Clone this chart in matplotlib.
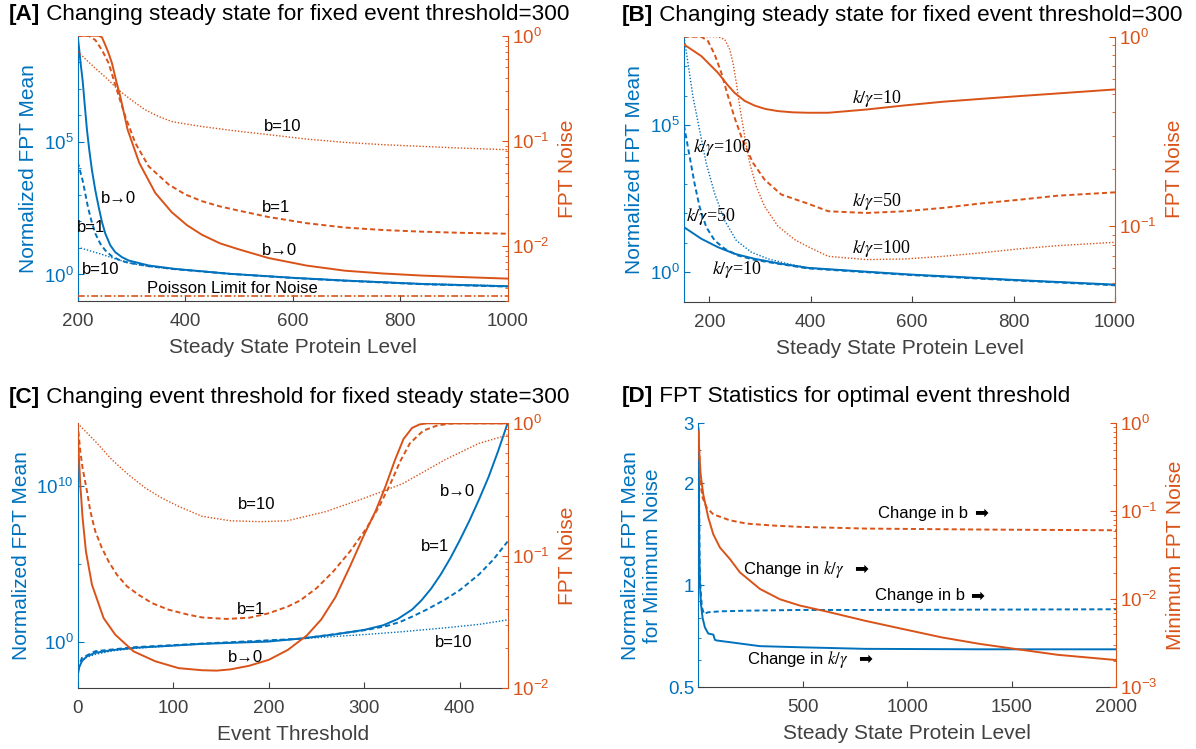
import matplotlib.pyplot as plt
import numpy as np
from matplotlib.ticker import FixedLocator, FuncFormatter, NullFormatter

plt.rcParams['font.family'] = ['Liberation Sans', 'DejaVu Sans']
plt.rcParams['mathtext.fontset'] = 'stix'

BLUE = '#0072BD'
ORANGE = '#D95319'
GRAY = '#404040'

# ---- [A] steady state sweep, event threshold fixed at 300 ----
a_x_mean_b0 = [200, 203.1, 205.6, 209.3, 213, 217.4, 221.7, 226.7, 232.9, 239.1, 245.3, 251.5,
               260.8, 270.1, 282.5, 294.9, 332.1, 381.7, 431.3, 483.5, 600, 697, 840, 1000]
a_mean_b0 = [1e9, 2.9e8, 9.1e7, 2.1e7, 2.8e6, 2.8e5, 4.9e4, 8.5e3, 1.5e3, 355, 95, 35,
             12.6, 6.9, 4.5, 3.37, 2.19, 1.62, 1.32, 1.06, 0.75, 0.59, 0.44, 0.36]
a_x_mean_b1 = [200, 204.3, 209.3, 214.3, 219.2, 225.4, 232.9, 242.2, 251.5, 263.9, 279.4, 294.9,
               332.1, 381.7, 431.3, 483.5, 600, 697, 840, 1000]
a_mean_b1 = [1.74e4, 8.5e3, 3.5e3, 1.1e3, 347, 110, 35, 14.5, 8.1, 4.8, 3.38, 2.75,
             2.07, 1.58, 1.3, 1.05, 0.74, 0.58, 0.43, 0.35]
a_x_mean_b10 = [200, 220.5, 245.3, 270.1, 294.9, 332.1, 381.7, 431.3, 483.5, 600, 697, 840, 1000]
a_mean_b10 = [10.7, 8.1, 5.7, 3.9, 2.75, 2.0, 1.59, 1.34, 1.07, 0.76, 0.6, 0.45, 0.37]

a_x_noise_b0 = [200, 239.1, 245.3, 251.5, 257.7, 263.9, 271.3, 279.4, 293, 314.7, 344.5, 375,
                403.4, 431.3, 465, 500, 554.8, 626, 697, 768.5, 840, 911, 1000]
a_noise_b0 = [1.0, 1.0, 0.966, 0.816, 0.681, 0.548, 0.38, 0.264, 0.128, 0.0617, 0.032, 0.021,
              0.0158, 0.0128, 0.0106, 0.0093, 0.0077, 0.00652, 0.00583, 0.00548, 0.00524,
              0.00508, 0.0049]
a_x_noise_b1 = [200, 220.5, 232.9, 245.3, 257.7, 272.8, 288.7, 307.3, 332.1, 369.3, 400, 431.3,
                465, 500, 554.8, 626, 697, 768.5, 840, 911, 1000]
a_noise_b1 = [1.0, 1.0, 0.91, 0.731, 0.548, 0.306, 0.171, 0.0955, 0.0573, 0.0385, 0.031, 0.0267,
              0.0238, 0.0217, 0.0189, 0.0165, 0.015, 0.0142, 0.0137, 0.01337, 0.0131]
a_x_noise_b10 = [200, 232.9, 255, 275.6, 300, 325.3, 350, 374.9, 400, 431.3, 490, 554.8, 626, 697,
                 768.5, 840, 911, 1000]
a_noise_b10 = [0.706, 0.49, 0.39, 0.306, 0.245, 0.198, 0.171, 0.153, 0.145, 0.137, 0.125, 0.1147,
               0.104, 0.0968, 0.092, 0.0887, 0.0855, 0.0824]
a_x_poisson = [200, 1000]
a_poisson = [0.00333, 0.00333]

# ---- [B] steady state sweep for different k/gamma ----
b_x_mean_10 = [150, 184.2, 217, 249.9, 289.4, 335.4, 394.5, 500, 600, 700, 800, 900, 1000]
b_mean_10 = [33.9, 13.7, 7.1, 4.23, 2.86, 2.02, 1.41, 1.07, 0.83, 0.68, 0.55, 0.457, 0.38]
b_x_mean_50 = [150, 161.2, 171, 180.9, 194, 210.5, 230.2, 256.5, 289.4, 335.4, 394.5, 500, 600,
               700, 800, 900, 1000]
b_mean_50 = [9.8e4, 8.3e3, 1.0e3, 162, 34, 12, 6.3, 3.7, 2.63, 1.95, 1.35, 1.03, 0.8,
             0.65, 0.53, 0.44, 0.36]
b_x_mean_100 = [150, 157.9, 167.7, 180.9, 194, 210.5, 230.2, 253.2, 282.8, 315.6, 355.1, 394.5,
                500, 600, 700, 800, 900, 1000]
b_mean_100 = [1e8, 1.26e7, 9.1e5, 6.6e4, 4.9e3, 468, 57.5, 12, 4.8, 2.86, 1.93, 1.41,
              1.05, 0.81, 0.66, 0.54, 0.45, 0.37]

b_x_noise_10 = [150, 184.2, 217, 235, 250, 270, 289.4, 310, 335.4, 365, 394.5, 434.5, 510, 585,
                661, 736, 811, 887, 1000]
b_noise_10 = [0.91, 0.79, 0.645, 0.56, 0.505, 0.458, 0.433, 0.416, 0.405, 0.399, 0.397, 0.397,
              0.413, 0.434, 0.454, 0.47, 0.486, 0.502, 0.527]
b_x_noise_50 = [150, 184.2, 197.3, 210.5, 223.6, 236.8, 249.9, 266.3, 286.1, 309.1, 341.9, 394.5,
                434.5, 510, 585, 661, 736, 811, 887, 1000]
b_noise_50 = [1.0, 1.0, 0.948, 0.806, 0.645, 0.486, 0.373, 0.281, 0.216, 0.176, 0.147, 0.1316,
              0.12, 0.1175, 0.12, 0.125, 0.132, 0.138, 0.145, 0.151]
b_x_noise_100 = [150, 217, 230.2, 240.1, 246.6, 253.2, 259.8, 269.6, 279.5, 292.6, 309.1, 335.4,
                 368.2, 394.5, 434.5, 510, 585, 661, 736, 811, 887, 1000]
b_noise_100 = [1.0, 1.0, 0.968, 0.857, 0.729, 0.571, 0.43, 0.299, 0.216, 0.162, 0.127, 0.1,
               0.085, 0.078, 0.0694, 0.0667, 0.0672, 0.0694, 0.0724, 0.076, 0.079, 0.0823]

# ---- [C] event threshold sweep, steady state fixed at 300 ----
c_x_mean_b0 = [0, 1.7, 4.5, 9.8, 18.5, 35.9, 60.3, 88.2, 130.1, 199.6, 232.8, 267.7, 300,
               320, 335, 350, 360, 370, 380, 390, 400, 410, 420, 430, 440, 450]
c_mean_b0 = [0.0063, 0.0229, 0.055, 0.115, 0.19, 0.28, 0.40, 0.50, 0.71, 1.0, 1.55, 2.8, 5.6,
             11.2, 28, 112, 450, 2.5e3, 2.0e4, 2.2e5, 3.2e6, 5.6e7, 1.26e9, 3.5e10, 1.6e12, 1e14]
c_x_mean_b1 = [0, 4.5, 18.5, 60.3, 130.1, 232.8, 302.5, 323.4, 337.4, 351.3, 365.3, 384.4, 400,
               420, 435, 450]
c_mean_b1 = [0.016, 0.089, 0.24, 0.44, 0.74, 1.51, 5.6, 10, 18, 43, 112, 490, 2.0e3, 2.0e4,
             1.8e5, 2.6e6]
c_x_mean_b10 = [0, 9.8, 18.5, 35.9, 60.3, 130.1, 232.8, 270, 300, 340, 384.4, 420, 450]
c_mean_b10 = [0.043, 0.1, 0.15, 0.25, 0.37, 0.71, 1.48, 2.14, 2.8, 4.3, 7.6, 12.6, 24.5]

c_x_noise_b0 = [0, 1.05, 2.8, 5.2, 8.7, 15, 27.2, 39.4, 58.6, 81.3, 105.7, 130.1, 145.5, 160,
                179.6, 200, 220, 240, 255, 270, 285, 300, 312, 322, 332, 341, 350, 358, 366, 450]
c_noise_b0 = [1.0, 0.615, 0.344, 0.193, 0.108, 0.0605, 0.0339, 0.0254, 0.019, 0.016, 0.0142,
              0.0137, 0.0136, 0.0139, 0.0148, 0.0164, 0.0195, 0.0251, 0.0331, 0.049, 0.083,
              0.145, 0.219, 0.331, 0.525, 0.76, 0.923, 0.982, 1.0, 1.0]
c_x_noise_b1 = [0, 2.8, 5.2, 9.8, 13.3, 18.5, 25.4, 32.4, 41.1, 51.6, 63.8, 77.8, 95.2, 116.2,
                130.1, 155.5, 179.6, 199.6, 219.6, 232.8, 250.2, 267.7, 285.1, 302.5, 316.5, 326.9,
                337.4, 347.8, 361.8, 375.7, 388, 398, 450]
c_noise_b1 = [1.0, 0.615, 0.46, 0.307, 0.217, 0.153, 0.1146, 0.0908, 0.072, 0.0589, 0.0508, 0.044,
              0.0392, 0.0359, 0.0343, 0.0334, 0.0341, 0.0368, 0.0413, 0.046, 0.0571, 0.0764, 0.108,
              0.162, 0.243, 0.344, 0.513, 0.708, 0.881, 0.959, 0.993, 1.0, 1.0]
c_x_noise_b10 = [0, 18.5, 35.9, 53.3, 70.8, 88.2, 105.7, 130.1, 159.5, 191.6, 219.6, 259.7, 299.8,
                 323.4, 339.9, 362, 384.4, 420, 450]
c_noise_b10 = [1.0, 0.731, 0.531, 0.409, 0.325, 0.273, 0.236, 0.199, 0.184, 0.181, 0.184, 0.2157,
               0.272, 0.315, 0.35, 0.43, 0.531, 0.706, 0.817]

# ---- [D] statistics at the optimal event threshold ----
d_x_mean_kg = [0, 2.9, 4.5, 7.7, 12.5, 20.4, 31.6, 47.6, 71.5, 79.5, 87.5, 151.3, 295, 486.6,
               800, 1352, 2000]
d_mean_kg = [2.9, 1.98, 1.26, 1.0, 0.88, 0.80, 0.75, 0.72, 0.715, 0.69, 0.687, 0.679, 0.661,
             0.656, 0.649, 0.647, 0.647]
d_x_mean_b = [0, 2.9, 6.1, 10.9, 17.2, 26.8, 47.6, 103.4, 231.2, 486.6, 800, 2000]
d_mean_b = [2.9, 1.98, 1.13, 0.96, 0.86, 0.823, 0.832, 0.837, 0.841, 0.845, 0.845, 0.849]
d_x_noise_kg = [0, 4.3, 10.9, 23.6, 47.6, 71.5, 103.4, 151.3, 199.2, 295, 390.8, 486.6, 616,
                800, 984, 1168, 1352, 1536, 1720, 2000]
d_noise_kg = [0.81, 0.482, 0.262, 0.155, 0.0847, 0.0548, 0.0387, 0.0286, 0.0202, 0.0131, 0.01,
              0.00848, 0.00724, 0.00569, 0.00457, 0.00368, 0.0031, 0.00269, 0.00234, 0.00204]
d_x_noise_b = [0, 4.3, 10.9, 20.4, 39.6, 71.5, 151.3, 231.2, 358.9, 486.6, 800, 1352, 2000]
d_noise_b = [0.81, 0.482, 0.2, 0.143, 0.11, 0.0923, 0.0789, 0.0724, 0.0688, 0.0665, 0.0636,
             0.062, 0.0608]

SOLID = dict(lw=1.4, ls='-')
DASH = dict(lw=1.4, ls=(0, (2.6, 1.6)))
DOT = dict(lw=1.0, ls=(0, (1, 1.3)))

fig = plt.figure(figsize=(11.96, 7.49), dpi=100)


def decades(shown):
    def f(v, pos):
        e = int(round(np.log10(v)))
        return r'$\mathdefault{10^{%d}}$' % e if e in shown else ''
    return FuncFormatter(f)


def panel(rect, xlim, xticks, xlabel, ylab_l, ylab_r):
    ax = fig.add_axes(rect)
    axr = ax.twinx()
    ax.set_xlim(*xlim)
    ax.set_xticks(xticks)
    ax.set_yscale('log')
    axr.set_yscale('log')
    ax.spines['top'].set_visible(False)
    ax.spines['right'].set_visible(False)
    ax.spines['left'].set_color(BLUE)
    ax.spines['bottom'].set_color(GRAY)
    for s in ('top', 'left', 'bottom'):
        axr.spines[s].set_visible(False)
    axr.spines['right'].set_color(ORANGE)
    for sp in list(ax.spines.values()) + list(axr.spines.values()):
        sp.set_linewidth(0.8)
    ax.tick_params(axis='x', direction='in', colors=GRAY, labelsize=13.5, length=4, pad=8.5)
    ax.tick_params(axis='y', which='both', direction='in', colors=BLUE, labelsize=13.5, pad=3)
    axr.tick_params(axis='y', which='both', direction='in', colors=ORANGE, labelsize=13.5, pad=3)
    for a in (ax, axr):
        a.tick_params(axis='y', which='major', length=4.5)
        a.tick_params(axis='y', which='minor', length=2.5)
    ax.set_xlabel(xlabel, fontsize=15, color=GRAY, labelpad=6)
    ax.set_ylabel(ylab_l, fontsize=15, color=BLUE, labelpad=4)
    axr.set_ylabel(ylab_r, fontsize=15, color=ORANGE, labelpad=6)
    axr.yaxis.set_minor_formatter(NullFormatter())
    return ax, axr


def left_decades(ax, lim, major, minor):
    ax.set_ylim(*lim)
    ax.yaxis.set_major_locator(FixedLocator(major))
    ax.yaxis.set_major_formatter(decades([int(round(np.log10(m))) for m in major]))
    ax.yaxis.set_minor_locator(FixedLocator(minor))
    ax.yaxis.set_minor_formatter(NullFormatter())


def title(x, y, tag, text, ax):
    t = fig.text(x / 1196, 1 - y / 749, tag, fontsize=16.2, fontweight='bold', va='baseline')
    ax.annotate(text, xy=(1, 0), xycoords=t, va='bottom', ha='left', fontsize=16.2,
                annotation_clip=False)


def note(ax, x, y, s, **kw):
    ax.text(x, y, s, transform=ax.transAxes, ha='center', va='center', fontsize=12,
            color='black', **kw)


def kg(ax, x, y, val):
    ax.text(x, y, r'$k/\gamma$=' + val, transform=ax.transAxes, ha='center', va='center',
            fontsize=13, family='Liberation Serif', color='black')


# ---------------- [A] ----------------
ax, axr = panel([0.0649, 0.5981, 0.3595, 0.3542], (200, 1000), [200, 400, 600, 800, 1000],
                'Steady State Protein Level', 'Normalized FPT Mean', 'FPT Noise')
left_decades(ax, (0.1, 1e9), [1, 1e5], [0.1, 10, 100, 1e3, 1e4, 1e6, 1e7, 1e8, 1e9])
axr.set_ylim(0.003, 1)
ax.plot(a_x_mean_b0, a_mean_b0, color=BLUE, **SOLID)
ax.plot(a_x_mean_b1, a_mean_b1, color=BLUE, **DASH)
ax.plot(a_x_mean_b10, a_mean_b10, color=BLUE, **DOT)
axr.plot(a_x_noise_b0, a_noise_b0, color=ORANGE, **SOLID)
axr.plot(a_x_noise_b1, a_noise_b1, color=ORANGE, **DASH)
axr.plot(a_x_noise_b10, a_noise_b10, color=ORANGE, **DOT)
axr.plot(a_x_poisson, a_poisson, color=ORANGE, lw=1.2, ls=(0, (4, 1.5, 1, 1.5)))
note(axr, 0.476, 0.656, 'b=10')
note(axr, 0.461, 0.353, 'b=1')
note(axr, 0.470, 0.192, 'b\u21920')
note(axr, 0.096, 0.387, 'b\u21920')
note(axr, 0.031, 0.277, 'b=1')
note(axr, 0.054, 0.120, 'b=10')
note(axr, 0.359, 0.048, 'Poisson Limit for Noise')
title(8.4, 20, '[A]', ' Changing steady state for fixed event threshold=300', ax)

# ---------------- [B] ----------------
ax, axr = panel([0.5719, 0.5972, 0.3604, 0.3538], (150, 1000), [200, 400, 600, 800, 1000],
                'Steady State Protein Level', 'Normalized FPT Mean', 'FPT Noise')
left_decades(ax, (0.1, 1e8), [1, 1e5], [0.1, 10, 100, 1e3, 1e4, 1e6, 1e7, 1e8])
axr.set_ylim(0.04, 1)
ax.plot(b_x_mean_10, b_mean_10, color=BLUE, **SOLID)
ax.plot(b_x_mean_50, b_mean_50, color=BLUE, **DASH)
ax.plot(b_x_mean_100, b_mean_100, color=BLUE, **DOT)
axr.plot(b_x_noise_10, b_noise_10, color=ORANGE, **SOLID)
axr.plot(b_x_noise_50, b_noise_50, color=ORANGE, **DASH)
axr.plot(b_x_noise_100, b_noise_100, color=ORANGE, **DOT)
kg(axr, 0.448, 0.767, '10')
kg(axr, 0.448, 0.377, '50')
kg(axr, 0.458, 0.201, '100')
kg(axr, 0.090, 0.581, '100')
kg(axr, 0.063, 0.323, '50')
kg(axr, 0.123, 0.122, '10')
title(621.8, 20.7, '[B]', ' Changing steady state for fixed event threshold=300', ax)

# ---------------- [C] ----------------
ax, axr = panel([0.0649, 0.0810, 0.3595, 0.3538], (0, 450), [0, 100, 200, 300, 400],
                'Event Threshold', 'Normalized FPT Mean', 'FPT Noise')
left_decades(ax, (1e-3, 1e14), [1, 1e10], [1e5])
axr.set_ylim(0.01, 1)
ax.plot(c_x_mean_b0, c_mean_b0, color=BLUE, **SOLID)
ax.plot(c_x_mean_b1, c_mean_b1, color=BLUE, **DASH)
ax.plot(c_x_mean_b10, c_mean_b10, color=BLUE, **DOT)
axr.plot(c_x_noise_b0, c_noise_b0, color=ORANGE, **SOLID)
axr.plot(c_x_noise_b1, c_noise_b1, color=ORANGE, **DASH)
axr.plot(c_x_noise_b10, c_noise_b10, color=ORANGE, **DOT)
note(axr, 0.417, 0.694, 'b=10')
note(axr, 0.403, 0.298, 'b=1')
note(axr, 0.390, 0.116, 'b\u21920')
note(axr, 0.884, 0.742, 'b\u21920')
note(axr, 0.831, 0.535, 'b=1')
note(axr, 0.875, 0.172, 'b=10')
title(8.4, 403.3, '[C]', ' Changing event threshold for fixed steady state=300', ax)

# ---------------- [D] ----------------
ax, axr = panel([0.5839, 0.0824, 0.3492, 0.3525], (0, 2000), [500, 1000, 1500, 2000],
                'Steady State Protein Level', 'Normalized FPT Mean\nfor Minimum Noise',
                'Minimum FPT Noise')
ax.set_ylim(0.5, 3)
ax.yaxis.set_major_locator(FixedLocator([0.5, 1, 2, 3]))
ax.yaxis.set_major_formatter(FuncFormatter(lambda v, p: '%g' % v))
ax.yaxis.set_minor_locator(FixedLocator([0.6, 0.7, 0.8, 0.9, 1.5, 2.5]))
ax.yaxis.set_minor_formatter(NullFormatter())
axr.set_ylim(1e-3, 1)
ax.plot(d_x_mean_kg, d_mean_kg, color=BLUE, **SOLID)
ax.plot(d_x_mean_b, d_mean_b, color=BLUE, **DASH)
axr.plot(d_x_noise_kg, d_noise_kg, color=ORANGE, **SOLID)
axr.plot(d_x_noise_b, d_noise_b, color=ORANGE, **DASH)
for fx, fy, s, afx in [(0.429, 0.660, 'Change in b', 0.659),
                       (0.108, 0.447, r'Change in $k/\gamma$', 0.372),
                       (0.423, 0.346, 'Change in b', 0.651),
                       (0.117, 0.107, r'Change in $k/\gamma$', 0.382)]:
    axr.text(fx, fy, s, transform=axr.transAxes, ha='left', va='center', fontsize=12)
    axr.text(afx, fy, '\u27a1', transform=axr.transAxes, ha='left', va='center', fontsize=12,
             family='DejaVu Sans')
title(621.8, 402.3, '[D]', ' FPT Statistics for optimal event threshold', ax)

fig.savefig('out.png', dpi=100)
